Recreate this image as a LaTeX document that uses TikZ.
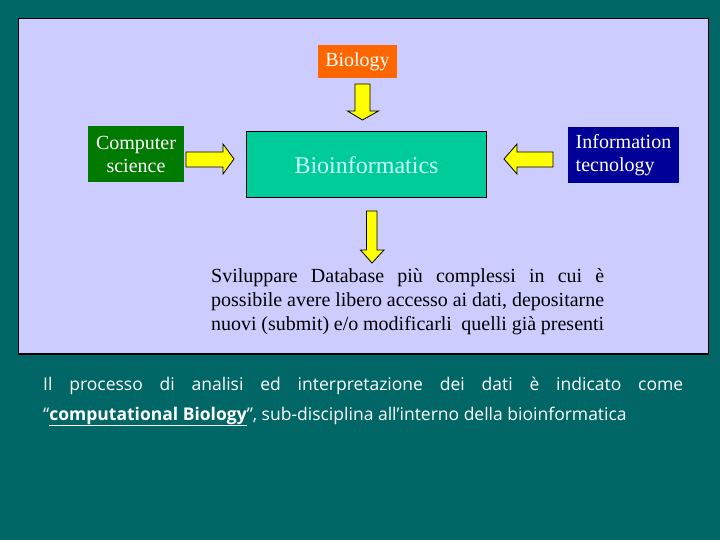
\documentclass[tikz,border=0pt]{standalone}
\usepackage{fontspec}
\setmainfont{Liberation Serif}
\newfontfamily\comicfont{Open Sans}
\definecolor{teal0}{HTML}{006666}
\definecolor{lav}{HTML}{CCCCFF}
\definecolor{bioorange}{HTML}{FF6600}
\definecolor{csgreen}{HTML}{007A00}
\definecolor{itnavy}{HTML}{000099}
\definecolor{bioinf}{HTML}{00CC99}
\definecolor{bioinftext}{HTML}{CCFFFF}
\definecolor{arrowyellow}{HTML}{FFFF00}
\tikzset{
  colbox/.style={inner sep=0pt, text=white, font=\fontsize{20}{23}\selectfont},
  blockarrow/.style={fill=arrowyellow, draw=black, line width=0.8pt, line join=miter},
  txt/.style={inner sep=0pt, anchor=base west}
}
\begin{document}
\begin{tikzpicture}[x=1pt,y=-1pt]
\fill[teal0] (0,0) rectangle (720,540);
\useasboundingbox (0,0) rectangle (720,540);
\draw[fill=lav, draw=black, line width=1.2pt] (18.5,18.5) rectangle (708.5,354);

\node[colbox, fill=bioorange, minimum width=79pt, minimum height=33pt] (bio) at (357.5,61.5) {Biology};
\node[colbox, fill=csgreen, minimum width=96pt, minimum height=56pt, align=center] (cs) at (136,154) {Computer\\science};
\node[colbox, fill=itnavy, minimum width=111pt, minimum height=56pt, align=left] (it) at (623.5,155) {Information\\tecnology};
\node[inner sep=0pt, fill=bioinf, draw=black, line width=1pt, minimum width=240pt, minimum height=66pt, text=bioinftext, font=\fontsize{24}{28}\selectfont] (bi) at (366.5,165) {Bioinformatics};

% block arrows
\draw[blockarrow] (355,84) -- (370,84) -- (370,111) -- (378.5,111) -- (362.5,120) -- (347.5,111) -- (355,111) -- cycle;
\draw[blockarrow] (186,152) -- (223,152) -- (223,144) -- (234,159) -- (223,174) -- (223,167) -- (186,167) -- cycle;
\draw[blockarrow] (553,152) -- (517,152) -- (517,144) -- (504,159) -- (517,174) -- (517,167) -- (553,167) -- cycle;
\draw[blockarrow] (366.5,211) -- (377,211) -- (377,250) -- (384,250) -- (372,263) -- (360.5,250) -- (366.5,250) -- cycle;

\node[txt] (para) at (211,282) {\parbox[t]{393pt}{\fontsize{20}{24}\selectfont\noindent
\makebox[393pt][s]{Sviluppare Database più complessi in cui è}\\
\makebox[393pt][s]{possibile avere libero accesso ai dati, depositarne}\\
\makebox[393pt][s]{nuovi (submit) e/o modificarli \ quelli già presenti}}};

\node[txt, text=white] (note) at (43,390) {\parbox[t]{640pt}{\comicfont\fontsize{17.5}{30}\selectfont\noindent
\makebox[640pt][s]{Il processo di analisi ed interpretazione dei dati è indicato come}\\
“\underline{\textbf{computational Biology}}”, sub-disciplina all’interno della bioinformatica}};
\end{tikzpicture}
\end{document}
